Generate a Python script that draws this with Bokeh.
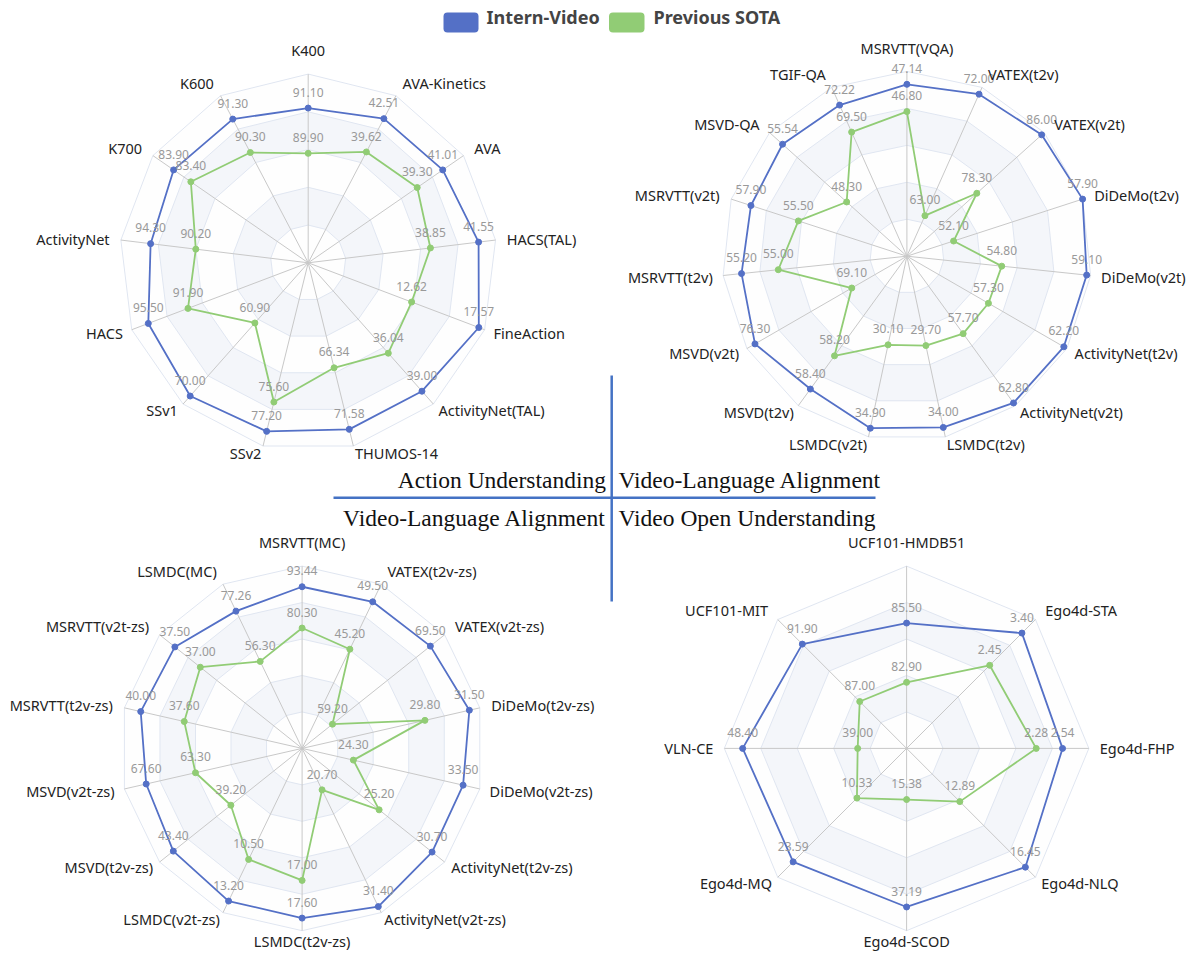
import numpy as np
from bokeh.plotting import figure
from bokeh.models import Range1d
from bokeh.core.properties import value
from bokeh.embed import file_html
from bokeh.resources import INLINE

# ---------------- data ----------------
series_names = ["Intern-Video", "Previous SOTA"]

action_names = ["K400", "AVA-Kinetics", "AVA", "HACS(TAL)", "FineAction", "ActivityNet(TAL)",
                "THUMOS-14", "SSv2", "SSv1", "HACS", "ActivityNet", "K700", "K600"]
action_intern = [91.10, 42.51, 41.01, 41.55, 17.57, 39.00, 71.58, 77.20, 70.00, 95.50, 94.30, 83.90, 91.30]
action_sota = [89.90, 39.62, 39.30, 38.85, 12.62, 36.04, 66.34, 75.60, 60.90, 91.90, 90.20, 83.40, 90.30]
action_min = [87, 30, 32, 32, 5, 29, 57.4, 68, 53.4, 81, 80, 80, 87]
action_max = [92, 44.5, 42.4, 42.5, 18, 40, 73, 78, 71, 97, 97, 84.5, 92]

vla_names = ["MSRVTT(VQA)", "VATEX(t2v)", "VATEX(v2t)", "DiDeMo(t2v)", "DiDeMo(v2t)", "ActivityNet(t2v)",
             "ActivityNet(v2t)", "LSMDC(t2v)", "LSMDC(v2t)", "MSVD(t2v)", "MSVD(v2t)", "MSRVTT(t2v)",
             "MSRVTT(v2t)", "MSVD-QA", "TGIF-QA"]
vla_intern = [47.14, 72.00, 86.00, 57.90, 59.10, 62.20, 62.80, 34.00, 34.90, 58.40, 76.30, 55.20, 57.90, 55.54, 72.22]
vla_sota = [46.80, 63.00, 78.30, 52.10, 54.80, 57.30, 57.70, 29.70, 30.10, 58.20, 69.10, 55.00, 55.50, 48.30, 69.50]
vla_min = [45, 60, 70, 50, 50, 52, 52, 25, 25, 57.6, 65, 54.3, 50, 41.5, 57]
vla_max = [47.3, 72.5, 86.3, 57.9, 59.3, 62.4, 63, 34.5, 35.4, 58.5, 76.9, 55.3, 58.9, 57, 74]

zs_names = ["MSRVTT(MC)", "VATEX(t2v-zs)", "VATEX(v2t-zs)", "DiDeMo(t2v-zs)", "DiDeMo(v2t-zs)",
            "ActivityNet(t2v-zs)", "ActivityNet(v2t-zs)", "LSMDC(t2v-zs)", "LSMDC(v2t-zs)", "MSVD(t2v-zs)",
            "MSVD(v2t-zs)", "MSRVTT(t2v-zs)", "MSRVTT(v2t-zs)", "LSMDC(MC)"]
zs_intern = [93.44, 49.50, 69.50, 31.50, 33.50, 30.70, 31.40, 17.60, 13.20, 43.40, 67.60, 40.00, 37.50, 77.26]
zs_sota = [80.30, 45.20, 59.20, 29.80, 24.30, 25.20, 20.70, 17.00, 10.50, 39.20, 63.30, 37.60, 37.00, 56.30]
zs_min = [42, 36.2, 56, 25.1, 20, 17.2, 16.9, 14.9, 3.3, 34, 54, 31.1, 35, 20]
zs_max = [100, 51.1, 71, 31.9, 34.9, 32, 31.95, 17.8, 13.95, 44.4, 69.5, 40.9, 37.8, 88.5]

open_names = ["UCF101-HMDB51", "Ego4d-STA", "Ego4d-FHP", "Ego4d-NLQ", "Ego4d-SCOD", "Ego4d-MQ", "VLN-CE", "UCF101-MIT"]
open_intern = [85.50, 3.40, 2.54, 16.45, 37.19, 23.59, 48.40, 91.90]
open_sota = [82.90, 2.45, 2.28, 12.89, 15.38, 10.33, 39.00, 87.00]
open_min = [80, 0, 1, 10, 5, 0, 35, 83]
open_max = [88, 3.8, 2.8, 17, 42, 26.8, 49.9, 94]

section_titles = ["Action Understanding", "Video-Language Alignment",
                  "Video-Language Alignment", "Video Open Understanding"]

# ---------------- style ----------------
BLUE = "#5470c6"
GREEN = "#91cc75"
BANDS = ["#fefefe", "#f4f6fa"]
SPLIT = "#e0e6f1"
SPOKE = "#c8c8c8"
CROSS = "#4472c4"
SANS = value("Noto Sans")
SERIF = value("Liberation Serif")

W, H = 1187, 953
S = 0.9906                      # canvas units -> screen pixels
p = figure(width=W, height=H, x_range=Range1d(0, W / S), y_range=Range1d(H / S, 0),
           output_backend="svg", toolbar_location=None, min_border=0,
           x_axis_type=None, y_axis_type=None)
p.grid.visible = False
p.outline_line_color = None
p.background_fill_color = "white"
p.border_fill_color = "white"


def q(v):
    """layout position given in screen pixels -> canvas units"""
    return v / S


def radar(cx, cy, R, names, intern, sota, mins, maxs):
    n = len(names)
    th = np.arange(n) * 2 * np.pi / n
    s, c = np.sin(th), np.cos(th)
    mins = np.array(mins, float)
    maxs = np.array(maxs, float)
    # split areas + split lines
    for k in range(5, 0, -1):
        r = R * k / 5
        p.patch(cx + r * s, cy - r * c, fill_color=BANDS[(k - 1) % 2],
                line_color=SPLIT, line_width=1)
    # spokes
    p.segment(x0=np.full(n, cx), y0=np.full(n, cy), x1=cx + R * s, y1=cy - R * c,
              line_color=SPOKE, line_width=1)
    # series
    for vals, col in ((intern, BLUE), (sota, GREEN)):
        v = np.array(vals, float)
        f = (v - mins) / (maxs - mins)
        x = cx + R * f * s
        y = cy - R * f * c
        p.line(np.r_[x, x[0]], np.r_[y, y[0]], line_color=col, line_width=1.8)
        p.scatter(x, y, size=6, fill_color=col, line_color=col)
        p.text(x, y - 16, text=[f"{t:.2f}" for t in vals], text_font=SANS,
               text_font_size="12px", text_color="#999999", text_align="center",
               text_baseline="middle")
    # indicator names
    for i, name in enumerate(names):
        if abs(s[i]) < 1e-6 and c[i] > 0:
            x, y, al, bl = cx, cy - R - 14, "center", "bottom"
        elif abs(s[i]) < 1e-6:
            x, y, al, bl = cx, min(cy + R + 13, q(940.5)), "center", "middle"
        else:
            r = R + 11 + 4 * c[i]
            x, y = cx + r * s[i], cy - r * c[i]
            al = "left" if s[i] > 0 else "right"
            bl = "middle"
        p.text([x], [y], text=[name], text_font=SANS,
               text_font_size="14.5px", text_color="#222222", text_align=al,
               text_baseline=bl)


radar(q(307.7), q(262.3), 190.5, action_names, action_intern, action_sota, action_min, action_max)
radar(915.0, q(255.7), 186.5, vla_names, vla_intern, vla_sota, vla_min, vla_max)
radar(q(301.6), 755.0, 184.0, zs_names, zs_intern, zs_sota, zs_min, zs_max)
radar(914.7, 755.0, 184.0, open_names, open_intern, open_sota, open_min, open_max)

# ---------------- legend ----------------
p.quad(left=[q(443), q(608.5)], right=[q(478), q(644)], top=[q(12), q(12)],
       bottom=[q(32), q(32)], fill_color=[BLUE, GREEN], line_color=None, border_radius=4)
p.text([q(486), q(653)], [q(16.5), q(16.5)], text=series_names, text_font=SANS,
       text_font_size="18px", text_font_style="bold", text_color="#444444",
       text_align="left", text_baseline="middle")

# ---------------- central cross ----------------
p.segment(x0=[q(611.2), q(333)], y0=[q(375), q(497.3)], x1=[q(611.2), q(875)],
          y1=[q(601), q(497.3)], line_color=CROSS, line_width=2.5)
p.text([q(605.5), q(618), q(605.5), q(618)], [q(479.5)] * 2 + [q(517.5)] * 2,
       text=section_titles, text_font=SERIF, text_font_size="23.5px", text_color="#111111",
       text_align=["right", "left", "right", "left"], text_baseline="middle")

open("out.html", "w").write(file_html(p, INLINE))
